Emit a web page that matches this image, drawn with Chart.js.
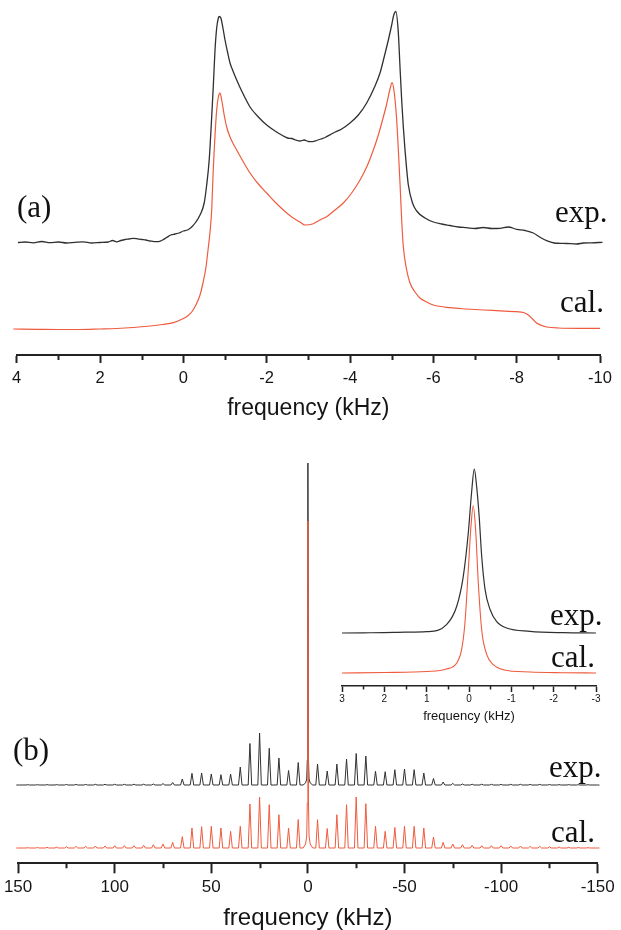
<!DOCTYPE html>
<html><head><meta charset="utf-8">
<script src="https://cdn.jsdelivr.net/npm/chart.js@4.4.1/dist/chart.umd.min.js"></script>
<style>
html,body{margin:0;padding:0;background:#fff;}
body{width:621px;height:930px;position:relative;overflow:hidden;}
canvas{position:absolute;}
.lab{position:absolute;font-family:"Liberation Serif","Times New Roman",serif;font-size:31px;line-height:31px;color:#111;white-space:nowrap;}
</style></head><body>
<canvas id="ca" width="621" height="440" style="left:0;top:0"></canvas>
<canvas id="cb" width="621" height="490" style="left:0;top:440px"></canvas>
<canvas id="ci" width="291" height="280" style="left:330px;top:450px"></canvas>
<div class="lab" style="left:17px;top:191px">(a)</div>
<div class="lab" style="left:555px;top:196px">exp.</div>
<div class="lab" style="left:560px;top:286px">cal.</div>
<div class="lab" style="left:13px;top:734px">(b)</div>
<div class="lab" style="left:549px;top:751px">exp.</div>
<div class="lab" style="left:551px;top:816px">cal.</div>
<div class="lab" style="left:550px;top:599px">exp.</div>
<div class="lab" style="left:551px;top:641px">cal.</div>
<script>
// ---------- Panel (a): static powder pattern ----------
const expFreqA = [3.97,3.8,3.6,3.4,3.2,3.0,2.8,2.6,2.4,2.2,2.0,1.8,1.7,1.6,1.5,1.4,1.3,1.2,1.1,1.0,0.9,0.8,0.7,0.6,0.5,0.4,0.3,0.2,0.1,0.0,-0.1,-0.2,-0.3,-0.4,-0.5,-0.56,-0.62,-0.68,-0.72,-0.76,-0.8,-0.84,-0.86,-0.9,-0.95,-1.0,-1.06,-1.12,-1.2,-1.28,-1.4,-1.6,-1.8,-2.0,-2.2,-2.4,-2.5,-2.6,-2.7,-2.8,-2.9,-3.0,-3.1,-3.2,-3.3,-3.4,-3.6,-3.8,-4.0,-4.2,-4.4,-4.6,-4.72,-4.82,-4.92,-5.0,-5.05,-5.1,-5.16,-5.2,-5.24,-5.28,-5.32,-5.36,-5.4,-5.5,-5.6,-5.8,-6.0,-6.2,-6.4,-6.6,-6.8,-7.0,-7.2,-7.4,-7.6,-7.8,-8.0,-8.2,-8.4,-8.55,-8.72,-8.9,-9.04,-9.2,-9.44,-9.6,-9.8,-10.06];
const expA = [-0.2,0.3,-0.5,0.8,-0.3,0.3,-0.7,0,0.5,-0.7,-0.2,0.3,1.8,0.5,1.8,2.8,3.3,4,3.5,2.8,2.3,1.3,0.6,0.6,2.3,4.8,7.3,8.3,9.3,11.3,12.3,15.3,20.3,27.3,39.3,57.3,82.3,125.3,157.3,192.3,214.3,224.3,225.8,224.3,214.3,202.3,190.3,179.3,170.3,162.3,151.3,135.3,125.3,117.3,111.3,106.3,104.3,103.8,102.3,101.3,102.3,100.8,100.6,101.8,103.3,104.8,109.3,113.3,119.3,127.3,139.3,156.3,169.3,185.3,202.3,217.3,227.3,230.8,209.3,175,142.3,115,92.3,73,57.3,39.3,31.3,24.3,20.3,18.3,16.8,15.3,14.6,13.8,14.8,13.8,14,15.3,13,11.8,9.3,5.3,1.6,-0.7,-1,-1.2,-1.7,-0.7,-0.5,0];
const calFreqA = [4.08,3.5,3.0,2.5,2.0,1.6,1.2,0.8,0.5,0.24,0.0,-0.1,-0.2,-0.3,-0.4,-0.47,-0.54,-0.6,-0.64,-0.68,-0.72,-0.76,-0.8,-0.84,-0.88,-0.92,-0.98,-1.04,-1.12,-1.2,-1.28,-1.4,-1.6,-1.8,-2.0,-2.2,-2.4,-2.6,-2.8,-2.92,-3.1,-3.3,-3.44,-3.64,-3.84,-4.04,-4.24,-4.4,-4.56,-4.68,-4.8,-4.88,-4.96,-5.01,-5.06,-5.12,-5.16,-5.2,-5.24,-5.28,-5.36,-5.44,-5.56,-5.68,-5.84,-6.0,-6.4,-6.8,-7.2,-7.6,-8.0,-8.16,-8.28,-8.38,-8.48,-8.6,-8.72,-9.0,-9.5,-10.0];
const calA = [0,-0.3,-0.5,-0.5,0,0.5,1.5,3,4.5,6.3,10.5,13,17,24,34,46,61,82,97,119,162,194,219,232,236,229,214,202,192,185,179,170,156,145,136,127,119,112,107,104,105,109.5,112.3,119,126,136,149,162,179,194,212,225,240,246.3,237,209,179,146,109,82,59,46,37,31,27,24,21.3,20,19,18.2,17.3,16.5,14,10,6,3.5,2,1,0.7,0.7];
const ticksA = [4,2,0,-2,-4,-6,-8,-10];
const minorA = [3,1,-1,-3,-5,-7,-9];

// ---------- Panel (b): spinning sidebands (5 kHz spacing) ----------
const sidebandKHz = [150,145,140,135,130,125,120,115,110,105,100,95,90,85,80,75,70,65,60,55,50,45,40,35,30,25,20,15,10,5,0,-5,-10,-15,-20,-25,-30,-35,-40,-45,-50,-55,-60,-65,-70,-75,-80,-85,-90,-95,-100,-105,-110,-115,-120,-125,-130,-135,-140,-145,-150];
const expSB = [0,0.3,0.3,0.4,0.4,0.5,0.6,0.6,0.7,0.7,0.7,0.7,0.8,0.8,1.0,1.4,2.5,6.0,11.7,12,11,10.3,11,18,41.5,52,36.7,27,14.5,22.5,322,21,14,21,26,31.5,29,13.7,13.3,15.3,16,15.3,12,6.5,3,1.6,1.0,0.8,0.8,0.7,0.7,0.7,0.7,0.6,0.6,0.5,0.4,0.4,0.3,0.3,0];
const calSB = [0,0.3,0.5,0.7,1.0,1.3,1.7,1.7,2.0,2.0,2.3,2.3,2.3,2.7,3.3,4.0,5.7,11.3,20,21.3,21.7,20,16.7,21.7,44,51,43.3,33.3,20,28.5,327,28.3,19.5,33.3,43.3,51,44.3,21.7,16.7,20.5,21.7,21.7,20,11,5.7,4,3.3,2.7,2.3,2.3,2.3,2.0,2.0,1.7,1.7,1.3,1.0,0.7,0.5,0.3,0];
const centreKHz = [2.5,1.2,0.6,0.3,0,-0.3,-0.6,-1.2,-2.5];
const centreExp = [0,2,6,25,322,25,6,2,0];
const centreCal = [0,4,12,45,327,45,12,4,0];
const ticksB = [150,100,50,0,-50,-100,-150];
const minorB = [125,75,25,-25,-75,-125];

// ---------- Inset: centre band ----------
const insetExpKHz = [3,2.5,2,1.5,1.0,0.53,0.29,0.135,0.017,-0.06,-0.125,-0.18,-0.24,-0.3,-0.38,-0.5,-0.65,-0.89,-1.44,-2.23,-3];
const insetExp = [0,0.2,0.4,0.8,1.3,8.3,26.7,56.7,100,140,164,146.7,116.7,76.7,43.3,23.3,11.7,5,1.7,0.3,0];
const insetCalKHz = [3,2,1.0,0.53,0.29,0.175,0.096,0.017,-0.047,-0.1,-0.157,-0.22,-0.3,-0.42,-0.575,-0.81,-1.44,-2.2,-3];
const insetCal = [0,0.5,1.5,4,10,23.3,50,103,147,167.3,143,90,43,18.3,8.3,3.3,1,0.3,0];
const ticksI = [3,2,1,0,-1,-2,-3];
const minorI = [2.5,1.5,0.5,-0.5,-1.5,-2.5];

// ---------- styling / layout constants ----------
const RED = '#ef5b3e', BLACK = '#303030', AXIS = '#222', TXT = '#151515';
const SANS = '"Liberation Sans", Arial, sans-serif';
const SB_HALF = 0.9;

function pairs(xs, ys, off) { return xs.map((x, i) => ({x: x, y: ys[i] + off})); }
function sidebandPoints(h, centre, base) {
  const pts = [];
  sidebandKHz.forEach((f, i) => {
    if (f === 0) centreKHz.forEach((c, j) => pts.push({x: c, y: base + centre[j]}));
    else {
      pts.push({x: f + SB_HALF, y: base});
      pts.push({x: f, y: base + h[i]});
      pts.push({x: f - SB_HALF, y: base});
    }
  });
  return pts;
}

const minorTickPlugin = {
  id: 'minorTicks',
  afterDraw(chart, args, o) {
    const s = chart.scales.x, ctx = chart.ctx;
    ctx.save();
    ctx.strokeStyle = o.color; ctx.lineWidth = o.width;
    ctx.beginPath();
    o.values.forEach(v => {
      const x = Math.round(s.getPixelForValue(v)) + 0.5;
      ctx.moveTo(x, s.top); ctx.lineTo(x, s.top + o.length);
    });
    ctx.stroke();
    ctx.restore();
  }
};

function makeChart(id, cfg) {
  return new Chart(document.getElementById(id), {
    type: 'line',
    data: {datasets: cfg.datasets},
    options: {
      responsive: false, animation: false, devicePixelRatio: 1,
      layout: {padding: cfg.padding},
      elements: {point: {radius: 0}},
      plugins: {legend: {display: false}, tooltip: {enabled: false},
        minorTicks: {values: cfg.minor, length: cfg.minorLen, width: cfg.axisW, color: AXIS}},
      scales: {
        x: {type: 'linear', reverse: true, min: cfg.min, max: cfg.max,
          afterBuildTicks: s => { s.ticks = cfg.major.map(v => ({value: v})); },
          afterFit: s => { s.height = cfg.axisH; },
          border: {display: true, color: AXIS, width: cfg.axisW},
          grid: {display: true, drawOnChartArea: false, drawTicks: true, tickLength: cfg.majorLen, color: AXIS, tickColor: AXIS, tickWidth: cfg.axisW},
          ticks: {autoSkip: false, maxRotation: 0, padding: cfg.tickPad, color: TXT, font: {family: SANS, size: cfg.tickSize}, callback: v => String(v)},
          title: {display: true, text: 'frequency (kHz)', color: TXT, font: {family: SANS, size: cfg.titleSize, lineHeight: cfg.titleLH}, padding: {top: 0, bottom: cfg.titlePad}}
        },
        y: {display: false, min: 0, max: cfg.ymax}
      }
    },
    plugins: [minorTickPlugin]
  });
}

// Panel (a)
makeChart('ca', {
  datasets: [
    {data: pairs(calFreqA, calA, 26), borderColor: RED, borderWidth: 1.2, clip: false, cubicInterpolationMode: 'monotone'},
    {data: pairs(expFreqA, expA, 112.7), borderColor: BLACK, borderWidth: 1.3, clip: false, cubicInterpolationMode: 'monotone'}
  ],
  padding: {left: 16.7, right: 21, top: 0, bottom: 0},
  min: -10, max: 4, major: ticksA, minor: minorA,
  axisH: 85, axisW: 2, majorLen: 8, minorLen: 5, tickPad: 5.3, tickSize: 16.5,
  titleSize: 23, titleLH: 1.2, titlePad: 18, ymax: 355
});

// Panel (b)
makeChart('cb', {
  datasets: [
    {data: sidebandPoints(calSB, centreCal, 15.3), borderColor: RED, borderWidth: 1, clip: false},
    {data: sidebandPoints(expSB, centreExp, 78.3), borderColor: BLACK, borderWidth: 1, clip: false}
  ],
  padding: {left: 14, right: 23.3, top: 0, bottom: 0},
  min: -150, max: 150, major: ticksB, minor: minorB,
  axisH: 66.7, axisW: 2, majorLen: 10, minorLen: 5, tickPad: 3.9, tickSize: 17,
  titleSize: 24, titleLH: 1, titlePad: 0, ymax: 423.3
});

// Inset
makeChart('ci', {
  datasets: [
    {data: pairs(insetCalKHz, insetCal, 13), borderColor: RED, borderWidth: 1.1, clip: false, cubicInterpolationMode: 'monotone'},
    {data: pairs(insetExpKHz, insetExp, 53), borderColor: BLACK, borderWidth: 1.2, clip: false, cubicInterpolationMode: 'monotone'}
  ],
  padding: {left: 12, right: 25, top: 0, bottom: 0},
  min: -3, max: 3, major: ticksI, minor: minorI,
  axisH: 44, axisW: 1.5, majorLen: 6, minorLen: 3.5, tickPad: 0.8, tickSize: 10,
  titleSize: 13, titleLH: 1.2, titlePad: 5.7, ymax: 236
});
</script>
</body></html>
